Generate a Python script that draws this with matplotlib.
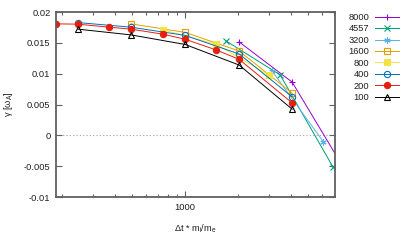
import matplotlib
matplotlib.use("Agg")
import matplotlib.pyplot as plt
from matplotlib.ticker import FixedLocator, NullFormatter, LogLocator, FixedFormatter

plt.rcParams['font.family'] = ['Liberation Sans', 'DejaVu Sans']
plt.rcParams['mathtext.fontset'] = 'custom'
plt.rcParams['mathtext.rm'] = 'Liberation Sans'
plt.rcParams['mathtext.it'] = 'Liberation Sans'

labels = ["8000", "4557", "3200", "1600", "800", "400", "200", "100"]
colors = ["#9400D3", "#009E73", "#56B4E9", "#E69F00", "#F0E442", "#0072B2", "#E51E10", "#000000"]

x_8000 = [2027, 4055, 8110]
y_8000 = [0.01515, 0.00863, -0.0057]
x_4557 = [1711, 3467, 6937]
y_4557 = [0.0153, 0.0098, -0.0052]
x_3200 = [3120, 6085]
y_3200 = [0.0104, -0.0010]
x_1600 = [493, 1000, 2027, 4055]
y_1600 = [0.01808, 0.0167, 0.01368, 0.00684]
x_800 = [750, 1500, 3000]
y_800 = [0.0171, 0.01477, 0.00977]
x_400 = [246, 493, 1000, 2027, 4055]
y_400 = [0.01829, 0.01754, 0.01621, 0.0132, 0.00624]
x_200 = [185, 246, 370, 493, 750, 1000, 1500, 2027, 4055]
y_200 = [0.01808, 0.01803, 0.01754, 0.01722, 0.0164, 0.01559, 0.01385, 0.01233, 0.00526]
x_100 = [246, 493, 1000, 2027, 4055]
y_100 = [0.01722, 0.01629, 0.01474, 0.0114, 0.00424]

xs = [x_8000, x_4557, x_3200, x_1600, x_800, x_400, x_200, x_100]
ys = [y_8000, y_4557, y_3200, y_1600, y_800, y_400, y_200, y_100]

markers = ["+", "x", (6, 2, 0), "s", "s", "o", "o", "^"]
fills = [True, True, True, False, True, False, True, False]

fig = plt.figure(figsize=(4.07, 2.44), dpi=100)
ax = fig.add_axes([0.1376, 0.1926, 0.6855, 0.7582])

fs = 6.7
ax.axhline(0, color="#a0a0a0", lw=0.8, ls=(0, (1, 2)), zorder=1)

for lab, c, x, y, m, f in zip(labels, colors, xs, ys, markers, fills):
    kw = dict(color=c, lw=0.7, marker=m, markersize=4.5, label=lab, clip_on=True)
    if f:
        kw.update(markerfacecolor=c, markeredgecolor=c, markeredgewidth=0.8)
    else:
        kw.update(markerfacecolor="none", markeredgecolor=c, markeredgewidth=0.8)
    ax.plot(x, y, **kw)

ax.set_xscale("log")
ax.set_xlim(185, 7100)
ax.set_ylim(-0.01, 0.02)
ax.xaxis.set_major_locator(FixedLocator([1000]))
ax.xaxis.set_major_formatter(FixedFormatter(["1000"]))
ax.xaxis.set_minor_locator(LogLocator(base=10, subs=range(2, 10)))
ax.xaxis.set_minor_formatter(NullFormatter())
yt = [-0.01, -0.005, 0, 0.005, 0.01, 0.015, 0.02]
ax.set_yticks(yt)
ax.set_yticklabels(["-0.01", "-0.005", "0", "0.005", "0.01", "0.015", "0.02"])

for s in ax.spines.values():
    s.set_color("#606060")
    s.set_linewidth(1.3)
ax.tick_params(which="both", direction="in", top=True, right=True,
               color="#606060", labelsize=fs, labelcolor="#202020", pad=4)
ax.tick_params(which="major", length=4, width=0.8)
ax.tick_params(which="minor", length=2.5, width=0.8)

ax.set_xlabel("Δt * m$_\\mathregular{i}$/m$_\\mathregular{e}$", fontsize=fs, color="#202020", labelpad=8)
ax.set_ylabel("γ [ω$_\\mathregular{A}$]", fontsize=fs, color="#202020", labelpad=6)

leg = ax.legend(loc="upper right", bbox_to_anchor=(399 / 407, 1 - 13 / 244),
                bbox_transform=fig.transFigure, frameon=False, markerfirst=False,
                fontsize=fs, handlelength=2.6, handletextpad=0.6, labelspacing=0.26,
                borderpad=0, borderaxespad=0)
for t in leg.get_texts():
    t.set_color("#202020")

fig.savefig("out.png", dpi=100)
